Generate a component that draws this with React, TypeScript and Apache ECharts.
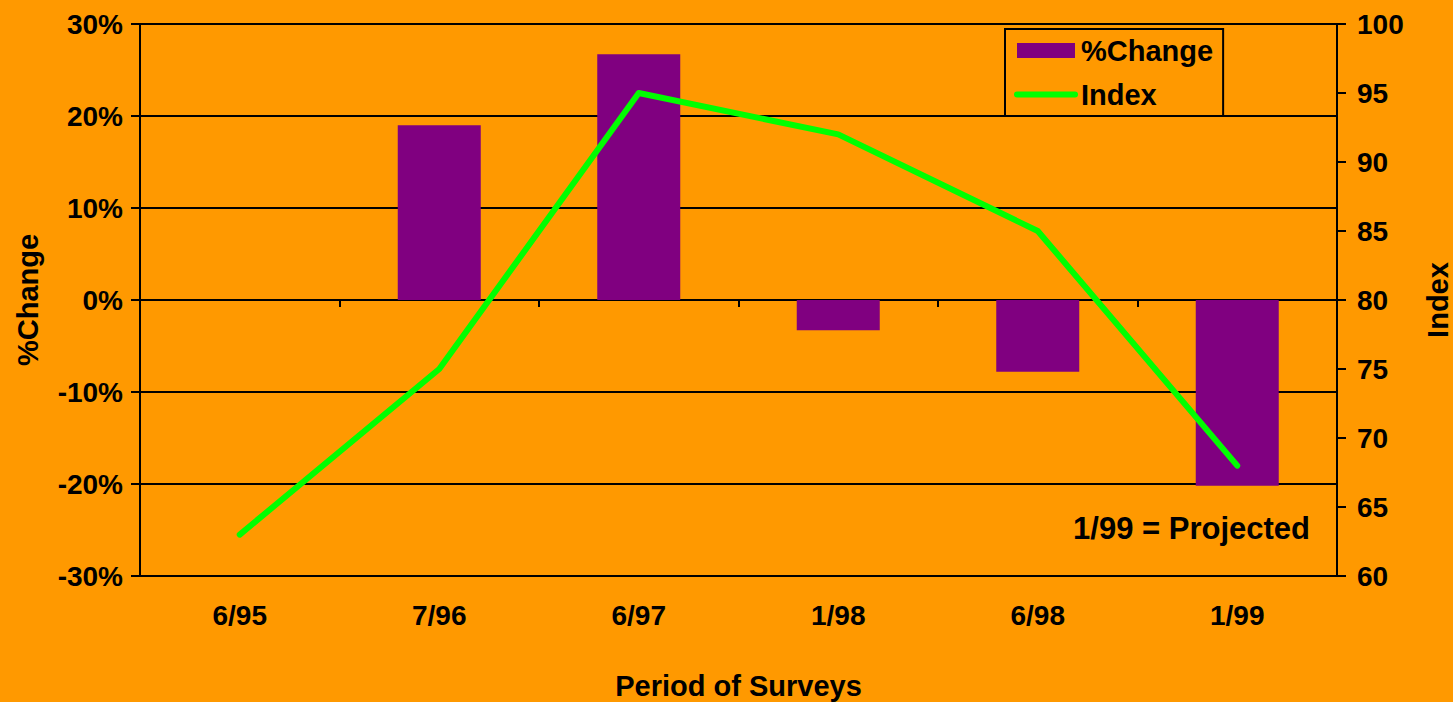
import React, { useEffect, useRef } from "react";
import * as echarts from "echarts";

const categories = ["6/95", "7/96", "6/97", "1/98", "6/98", "1/99"];
const pctChange = [null, 19.0, 26.7, -3.3, -7.8, -20.2];
const indexValues = [63, 75, 95, 92, 85, 68];
const leftTicks = { min: -30, max: 30, interval: 10 };
const rightTicks = { min: 60, max: 100, interval: 5 };
const note = "1/99 = Projected";

const FONT = "'Liberation Sans', Arial, sans-serif";
const BG = "#FF9900";

export default function App() {
  const ref = useRef<HTMLDivElement>(null);
  useEffect(() => {
    if (!ref.current) return;
    const chart = echarts.init(ref.current, null, { renderer: "svg" });
    const txt = (size: number) => ({
      fontFamily: FONT,
      fontWeight: "bold" as const,
      fontSize: size,
      color: "#000",
    });
    chart.setOption({
      animation: false,
      backgroundColor: BG,
      textStyle: { fontFamily: FONT },
      grid: {
        left: 140,
        right: 116,
        top: 24,
        bottom: 126,
        containLabel: false,
        outerBoundsMode: "none",
      },
      legend: {
        orient: "vertical",
        left: 1005,
        top: 29,
        padding: [7, 10, 7, 9],
        itemGap: 15,
        itemWidth: 58,
        itemHeight: 15,
        backgroundColor: BG,
        borderColor: "#000",
        borderWidth: 2,
        textStyle: { ...txt(29), padding: [0, 5, 0, 1] },
        data: [
          { name: "%Change", icon: "rect" },
          {
            name: "Index",
            itemStyle: { opacity: 0 },
            lineStyle: { width: 6, color: "#00FF00", cap: "round" },
          },
        ],
      },
      xAxis: [
        {
          type: "category",
          data: categories,
          boundaryGap: true,
          axisLine: { show: true, onZero: true, lineStyle: { color: "#000", width: 2 } },
          axisTick: { show: true, length: 7, lineStyle: { color: "#000", width: 2 } },
          axisLabel: { show: false },
          splitLine: { show: false },
        },
        {
          type: "category",
          data: categories,
          position: "bottom",
          boundaryGap: true,
          axisLine: { show: false, onZero: false },
          axisTick: { show: false },
          axisLabel: { ...txt(28), margin: 25 },
          name: "Period of Surveys",
          nameLocation: "middle",
          nameGap: 95,
          nameTextStyle: { ...txt(29) },
        },
      ],
      yAxis: [
        {
          type: "value",
          position: "left",
          min: leftTicks.min,
          max: leftTicks.max,
          interval: leftTicks.interval,
          axisLine: { show: true, lineStyle: { color: "#000", width: 2 } },
          axisTick: { show: true, length: 9, lineStyle: { color: "#000", width: 2 } },
          axisLabel: { ...txt(28), margin: 17, formatter: (v: number) => `${v}%` },
          splitLine: { show: true, lineStyle: { color: "#000", width: 2 } },
          name: "%Change",
          nameLocation: "middle",
          nameRotate: 90,
          nameGap: 98,
          nameTextStyle: { ...txt(29) },
        },
        {
          type: "value",
          position: "right",
          min: rightTicks.min,
          max: rightTicks.max,
          interval: rightTicks.interval,
          axisLine: { show: true, lineStyle: { color: "#000", width: 2 } },
          axisTick: { show: true, length: 9, lineStyle: { color: "#000", width: 2 } },
          axisLabel: { ...txt(28), margin: 20 },
          splitLine: { show: false },
          name: "Index",
          nameLocation: "middle",
          nameRotate: 90,
          nameGap: 86,
          nameTextStyle: { ...txt(29) },
        },
      ],
      series: [
        {
          name: "%Change",
          type: "bar",
          xAxisIndex: 0,
          yAxisIndex: 0,
          data: pctChange,
          barWidth: 83,
          itemStyle: { color: "#800080" },
        },
        {
          name: "Index",
          type: "line",
          xAxisIndex: 0,
          yAxisIndex: 1,
          data: indexValues,
          symbol: "none",
          showSymbol: false,
          lineStyle: { color: "#00FF00", width: 6, cap: "round", join: "round" },
          itemStyle: { color: "#00FF00" },
        },
      ],
      graphic: [
        {
          type: "text",
          right: 1453 - 1310,
          top: 513,
          style: { text: note, font: `bold 31px ${FONT}`, fill: "#000" },
        },
      ],
    });
    return () => chart.dispose();
  }, []);
  return (
    <div
      ref={ref}
      style={{ position: "fixed", left: 0, top: 0, width: 1453, height: 702 }}
    />
  );
}
